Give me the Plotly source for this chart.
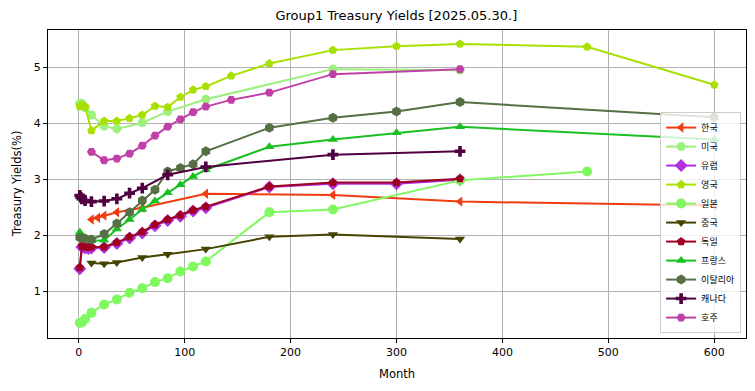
import plotly.graph_objects as go

# ---- data (months -> yield %) ----
kr_m = [12, 18, 24, 36, 60, 120, 240, 360, 600]
kr_y = [2.28, 2.31, 2.35, 2.41, 2.49, 2.74, 2.72, 2.60, 2.53]

us_m = [1, 2, 3, 4, 6, 12, 24, 36, 60, 84, 120, 240, 360]
us_y = [4.36, 4.36, 4.35, 4.33, 4.28, 4.15, 3.95, 3.90, 4.01, 4.21, 4.43, 4.97, 4.95]

eu_m = [1, 3, 6, 9, 12, 24, 36, 48, 60, 72, 84, 96, 108, 120, 180, 240, 300, 360]
eu_y = [1.40, 1.79, 1.77, 1.76, 1.77, 1.78, 1.85, 1.95, 2.04, 2.17, 2.26, 2.34, 2.43, 2.49, 2.86, 2.92, 2.92, 2.99]

uk_m = [1, 3, 6, 12, 24, 36, 48, 60, 72, 84, 96, 108, 120, 144, 180, 240, 300, 360, 480, 600]
uk_y = [4.30, 4.33, 4.30, 3.87, 4.04, 4.04, 4.09, 4.15, 4.31, 4.29, 4.47, 4.60, 4.66, 4.85, 5.07, 5.31, 5.38, 5.42, 5.37, 4.69]

jp_m = [1, 3, 6, 12, 24, 36, 48, 60, 72, 84, 96, 108, 120, 180, 240, 360, 480]
jp_y = [0.43, 0.44, 0.50, 0.61, 0.76, 0.85, 0.97, 1.05, 1.16, 1.23, 1.35, 1.44, 1.53, 2.41, 2.46, 2.98, 3.14]

cn_m = [12, 24, 36, 60, 84, 120, 180, 240, 360]
cn_y = [1.50, 1.49, 1.51, 1.60, 1.66, 1.75, 1.97, 2.01, 1.93]

de_m = [1, 3, 6, 9, 12, 24, 36, 48, 60, 72, 84, 96, 108, 120, 180, 240, 300, 360]
de_y = [1.42, 1.81, 1.79, 1.78, 1.79, 1.79, 1.87, 1.97, 2.06, 2.19, 2.28, 2.36, 2.45, 2.51, 2.87, 2.94, 2.94, 3.01]

fr_m = [1, 3, 6, 9, 12, 24, 36, 48, 60, 72, 84, 96, 108, 120, 180, 240, 300, 360, 600]
fr_y = [2.05, 1.97, 1.93, 1.92, 1.90, 1.91, 2.11, 2.28, 2.46, 2.61, 2.76, 2.90, 3.05, 3.17, 3.58, 3.71, 3.83, 3.94, 3.71]

it_m = [1, 3, 6, 12, 24, 36, 48, 60, 72, 84, 96, 108, 120, 180, 240, 300, 360, 600]
it_y = [1.96, 1.95, 1.94, 1.92, 2.02, 2.21, 2.41, 2.62, 2.81, 3.14, 3.20, 3.27, 3.50, 3.92, 4.10, 4.21, 4.38, 4.11]

ca_m = [1, 2, 3, 6, 12, 24, 36, 48, 60, 84, 120, 240, 360]
ca_y = [2.71, 2.68, 2.65, 2.62, 2.60, 2.61, 2.65, 2.75, 2.84, 3.08, 3.22, 3.44, 3.50]

au_m = [12, 24, 36, 48, 60, 72, 84, 96, 108, 120, 144, 180, 240, 360]
au_y = [3.49, 3.34, 3.37, 3.46, 3.60, 3.78, 3.94, 4.07, 4.20, 4.30, 4.42, 4.55, 4.88, 4.97]

names = ["한국", "미국", "유럽", "영국", "일본", "중국", "독일", "프랑스", "이탈리아", "캐나다", "호주"]
xs = [kr_m, us_m, eu_m, uk_m, jp_m, cn_m, de_m, fr_m, it_m, ca_m, au_m]
ys = [kr_y, us_y, eu_y, uk_y, jp_y, cn_y, de_y, fr_y, it_y, ca_y, au_y]

x_ticks = [0, 100, 200, 300, 400, 500, 600]
y_ticks = [1, 2, 3, 4, 5]

colors = ["#f03c10", "#9cf07c", "#b030e0", "#a8e000", "#80f860", "#444400",
          "#a00020", "#18c020", "#557045", "#500040", "#c040a8"]
symbols = ["triangle-left", "circle", "diamond", "pentagon", "circle", "triangle-down",
           "pentagon", "triangle-up", "hexagon", "cross", "hexagon2"]
sizes = [9, 9, 10, 9, 10, 9, 9, 9, 10, 9, 9]

fig = go.Figure()
for n, x, y, c, s, sz in zip(names, xs, ys, colors, symbols, sizes):
    fig.add_trace(go.Scatter(
        x=x, y=y, name=n, mode="lines+markers",
        line=dict(color=c, width=2),
        marker=dict(color=c, symbol=s, size=sz, line=dict(width=0)),
    ))

axis_common = dict(
    showgrid=True, gridcolor="#b0b0b0", gridwidth=1,
    showline=True, linecolor="black", linewidth=1, mirror=True,
    ticks="outside", ticklen=4, tickcolor="black",
    zeroline=False, automargin=False,
    tickfont=dict(family="DejaVu Sans", size=11, color="black"),
)

fig.update_layout(
    width=755, height=391,
    margin=dict(l=48, r=9, t=30, b=53),
    paper_bgcolor="white", plot_bgcolor="white",
    title=dict(text="Group1 Treasury Yields [2025.05.30.]", x=0.525, xanchor="center",
               y=0.96, yanchor="middle",
               font=dict(family="DejaVu Sans", size=13, color="black")),
    xaxis=dict(range=[-29, 630], tickvals=x_ticks, **axis_common),
    yaxis=dict(range=[0.16, 5.67], tickvals=y_ticks, **axis_common),
    legend=dict(x=0.993, y=0.016, xanchor="right", yanchor="bottom",
                bgcolor="rgba(255,255,255,0.8)", bordercolor="#cccccc", borderwidth=1,
                font=dict(family="Noto Sans CJK KR", size=9, color="black"),
                tracegroupgap=0, itemwidth=30),
    showlegend=True,
    annotations=[
        dict(text="Month", xref="paper", yref="paper", x=0.5, y=-0.118,
             xanchor="center", yanchor="middle", showarrow=False,
             font=dict(family="DejaVu Sans", size=11.5, color="black")),
        dict(text="Treasury Yields(%)", xref="paper", yref="paper", x=-0.044, y=0.5,
             xanchor="center", yanchor="middle", showarrow=False, textangle=-90,
             font=dict(family="DejaVu Sans", size=11.5, color="black")),
    ],
)

fig.write_html("out.html", config={"displayModeBar": False},
               post_script="document.body.style.margin='0';document.body.style.overflow='hidden';")
